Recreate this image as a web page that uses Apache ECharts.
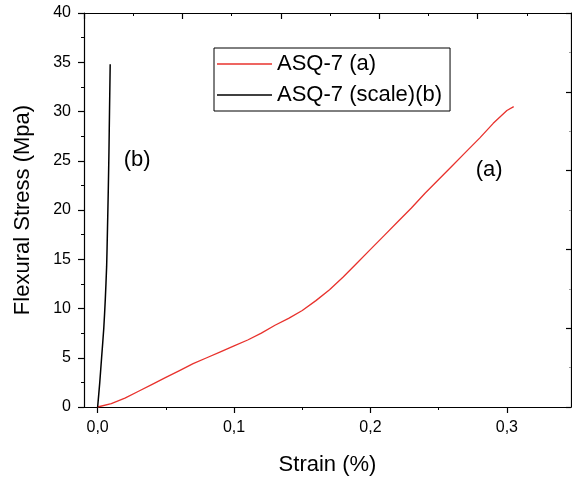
<!DOCTYPE html>
<html>
<head>
<meta charset="utf-8">
<script src="https://cdn.jsdelivr.net/npm/echarts@6/dist/echarts.min.js"></script>
<style>html,body{margin:0;padding:0;background:#fff}#c{width:572px;height:477px}</style>
</head>
<body>
<div id="c"></div>
<script>
// Data
var strainA = [0, 0.01, 0.02, 0.03, 0.04, 0.05, 0.06, 0.07, 0.08, 0.09, 0.10, 0.11, 0.12, 0.13, 0.14, 0.15, 0.16, 0.17, 0.18, 0.19, 0.20, 0.21, 0.22, 0.23, 0.24, 0.25, 0.26, 0.27, 0.28, 0.29, 0.30, 0.305];
var stressA = [0, 0.35, 0.9, 1.6, 2.3, 3.0, 3.7, 4.4, 5.0, 5.6, 6.2, 6.8, 7.5, 8.3, 9.0, 9.8, 10.8, 11.9, 13.2, 14.6, 16.0, 17.4, 18.8, 20.2, 21.7, 23.1, 24.5, 25.9, 27.3, 28.8, 30.1, 30.5];
var strainB = [0, 0.0015, 0.0029, 0.0045, 0.0056, 0.0066, 0.0072, 0.0078, 0.0083, 0.0087, 0.0092];
var stressB = [0, 2.4, 5.0, 8.0, 10.9, 14.3, 18.0, 22.0, 26.0, 30.0, 34.8];
var xMajorTicks = [0, 0.1, 0.2, 0.3];
var xMinorTicks = [0.05, 0.15, 0.25];
var seriesNames = ['ASQ-7 (a)', 'ASQ-7 (scale)(b)'];
var annotations = ['(a)', '(b)'];
var xTitle = 'Strain (%)';
var yTitle = 'Flexural Stress (Mpa)';

function pairs(xs, ys) { return xs.map(function (x, i) { return [x, ys[i]]; }); }

var FONT = 'Liberation Sans, Arial, sans-serif';
var chart = echarts.init(document.getElementById('c'), null, {renderer: 'canvas'});
var axisLine = {show: true, onZero: false, lineStyle: {color: '#000', width: 1.2}};
chart.setOption({
  animation: false,
  backgroundColor: '#fff',
  textStyle: {fontFamily: FONT, color: '#000'},
  grid: {left: 84, right: 1, top: 13, bottom: 70, containLabel: false, outerBoundsMode: 'none'},
  legend: {
    orient: 'vertical', left: 214, top: 48,
    borderColor: '#000', borderWidth: 1, borderRadius: 0,
    padding: [5, 8, 5, 3], itemGap: 9, itemWidth: 55, itemHeight: 1.3,
    icon: 'rect',
    textStyle: {fontSize: 22, fontFamily: FONT, color: '#000', lineHeight: 21},
    data: seriesNames
  },
  xAxis: [
    {
      type: 'value', position: 'bottom', min: -0.01, max: 0.347,
      axisLine: axisLine,
      axisTick: {show: true, inside: false, length: 6, customValues: xMajorTicks, lineStyle: {color: '#000', width: 1.2}},
      axisLabel: {show: true, customValues: xMajorTicks, margin: 13, fontSize: 16, fontFamily: FONT, color: '#000',
        formatter: function (v) { return v.toFixed(1).replace('.', ','); }},
      splitLine: {show: false},
      name: xTitle, nameLocation: 'middle', nameGap: 47,
      nameTextStyle: {fontSize: 22, fontFamily: FONT, color: '#000'}
    },
    {
      type: 'value', position: 'top', min: 0, max: 4.949, interval: 1,
      axisLine: axisLine,
      axisTick: {show: true, inside: true, length: 6, lineStyle: {color: '#000', width: 1.2}},
      minorTick: {show: true, splitNumber: 2, length: 3, lineStyle: {color: '#000', width: 1}},
      axisLabel: {show: false}, splitLine: {show: false}, minorSplitLine: {show: false}
    },
    {
      type: 'value', position: 'bottom', min: -0.01, max: 0.347,
      axisLine: {show: false, onZero: false},
      axisTick: {show: true, inside: false, length: 3, customValues: xMinorTicks, lineStyle: {color: '#000', width: 1}},
      axisLabel: {show: false}, splitLine: {show: false}
    }
  ],
  yAxis: [
    {
      type: 'value', position: 'left', min: 0, max: 40, interval: 5,
      axisLine: axisLine,
      axisTick: {show: true, inside: false, length: 6, lineStyle: {color: '#000', width: 1.2}},
      minorTick: {show: true, splitNumber: 2, length: 3, lineStyle: {color: '#000', width: 1}},
      axisLabel: {show: true, margin: 13, fontSize: 16, fontFamily: FONT, color: '#000'},
      splitLine: {show: false}, minorSplitLine: {show: false},
      name: yTitle, nameLocation: 'middle', nameGap: 50, nameRotate: 90,
      nameTextStyle: {fontSize: 22, fontFamily: FONT, color: '#000'}
    },
    {
      show: true, type: 'value', position: 'right', offset: 0, min: 0, max: 5, interval: 1,
      axisLine: {show: true, onZero: false, lineStyle: {color: '#000', width: 1.2}},
      axisTick: {show: true, inside: true, length: 5, lineStyle: {color: '#000', width: 1.2}},
      minorTick: {show: true, splitNumber: 2, length: 2, lineStyle: {color: '#999', width: 1}},
      axisLabel: {show: false}, splitLine: {show: false}, minorSplitLine: {show: false}
    }
  ],
  series: [
    {
      name: seriesNames[0], type: 'line', xAxisIndex: 0, yAxisIndex: 0,
      data: pairs(strainA, stressA), symbol: 'none', smooth: false,
      lineStyle: {color: '#e8322d', width: 1.3}, itemStyle: {color: '#e8322d'},
      markPoint: {
        symbol: 'rect', symbolSize: 1, itemStyle: {color: 'transparent'},
        label: {show: true, formatter: annotations[0], fontSize: 22, fontFamily: FONT, color: '#000', position: 'inside'},
        data: [{coord: [0.287, 24.1]}]
      }
    },
    {
      name: seriesNames[1], type: 'line', xAxisIndex: 0, yAxisIndex: 0,
      data: pairs(strainB, stressB), symbol: 'none', smooth: 0.2,
      lineStyle: {color: '#000', width: 1.5}, itemStyle: {color: '#000'},
      markPoint: {
        symbol: 'rect', symbolSize: 1, itemStyle: {color: 'transparent'},
        label: {show: true, formatter: annotations[1], fontSize: 22, fontFamily: FONT, color: '#000', position: 'inside'},
        data: [{coord: [0.029, 25.1]}]
      }
    },
    {
      name: 'frameTop', type: 'line', xAxisIndex: 1, yAxisIndex: 1,
      data: [[0, 0]], symbol: 'none', silent: true, lineStyle: {opacity: 0}
    },
    {
      name: 'frameMinor', type: 'line', xAxisIndex: 2, yAxisIndex: 1,
      data: [[0, 0]], symbol: 'none', silent: true, lineStyle: {opacity: 0}
    }
  ]
});
</script>
</body>
</html>
